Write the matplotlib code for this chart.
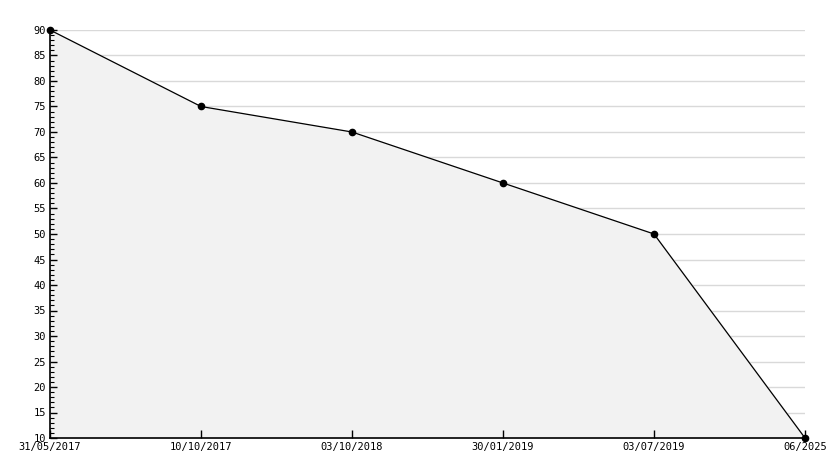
import matplotlib
matplotlib.use("Agg")
import matplotlib.pyplot as plt
from matplotlib.ticker import MultipleLocator
import numpy as np

# data
dates = ["31/05/2017", "10/10/2017", "03/10/2018", "30/01/2019", "03/07/2019", "06/2025"]
values = [90, 75, 70, 60, 50, 10]

fig = plt.figure(figsize=(8.34, 4.68), dpi=100)
ax = fig.add_axes([50 / 834, 30 / 468, 755 / 834, 408 / 468])

x = np.arange(len(dates))
ax.fill_between(x, values, 10, color="#f2f2f2", zorder=1)
ax.plot(x, values, color="black", lw=0.9, marker="o", ms=4.5, zorder=3, clip_on=False)

ax.set_xlim(0, len(dates) - 1)
ax.set_ylim(10, 90)

ax.yaxis.set_major_locator(MultipleLocator(5))
ax.yaxis.set_minor_locator(MultipleLocator(1))
# grid lines drawn below the fill, axis ticks stay above it
for yv in ax.get_yticks():
    if 10 < yv <= 90:
        ax.axhline(yv, color="#d9d9d9", lw=1, zorder=0.5)

ax.set_xticks(x)
ax.set_xticklabels(dates)

for s in ("top", "right"):
    ax.spines[s].set_visible(False)
ax.spines["left"].set_linewidth(1.2)
ax.spines["bottom"].set_linewidth(1.2)

ax.tick_params(axis="y", which="major", direction="in", length=5, width=1, pad=3, labelsize=7.5, color="black")
ax.tick_params(axis="y", which="minor", direction="in", length=3, width=0.8, color="black")
ax.tick_params(axis="x", which="major", direction="in", length=6, width=1, pad=3, labelsize=7.5)
for lab in ax.get_xticklabels() + ax.get_yticklabels():
    lab.set_fontfamily("DejaVu Sans Mono")

fig.savefig("out.png", dpi=100, facecolor="white")
